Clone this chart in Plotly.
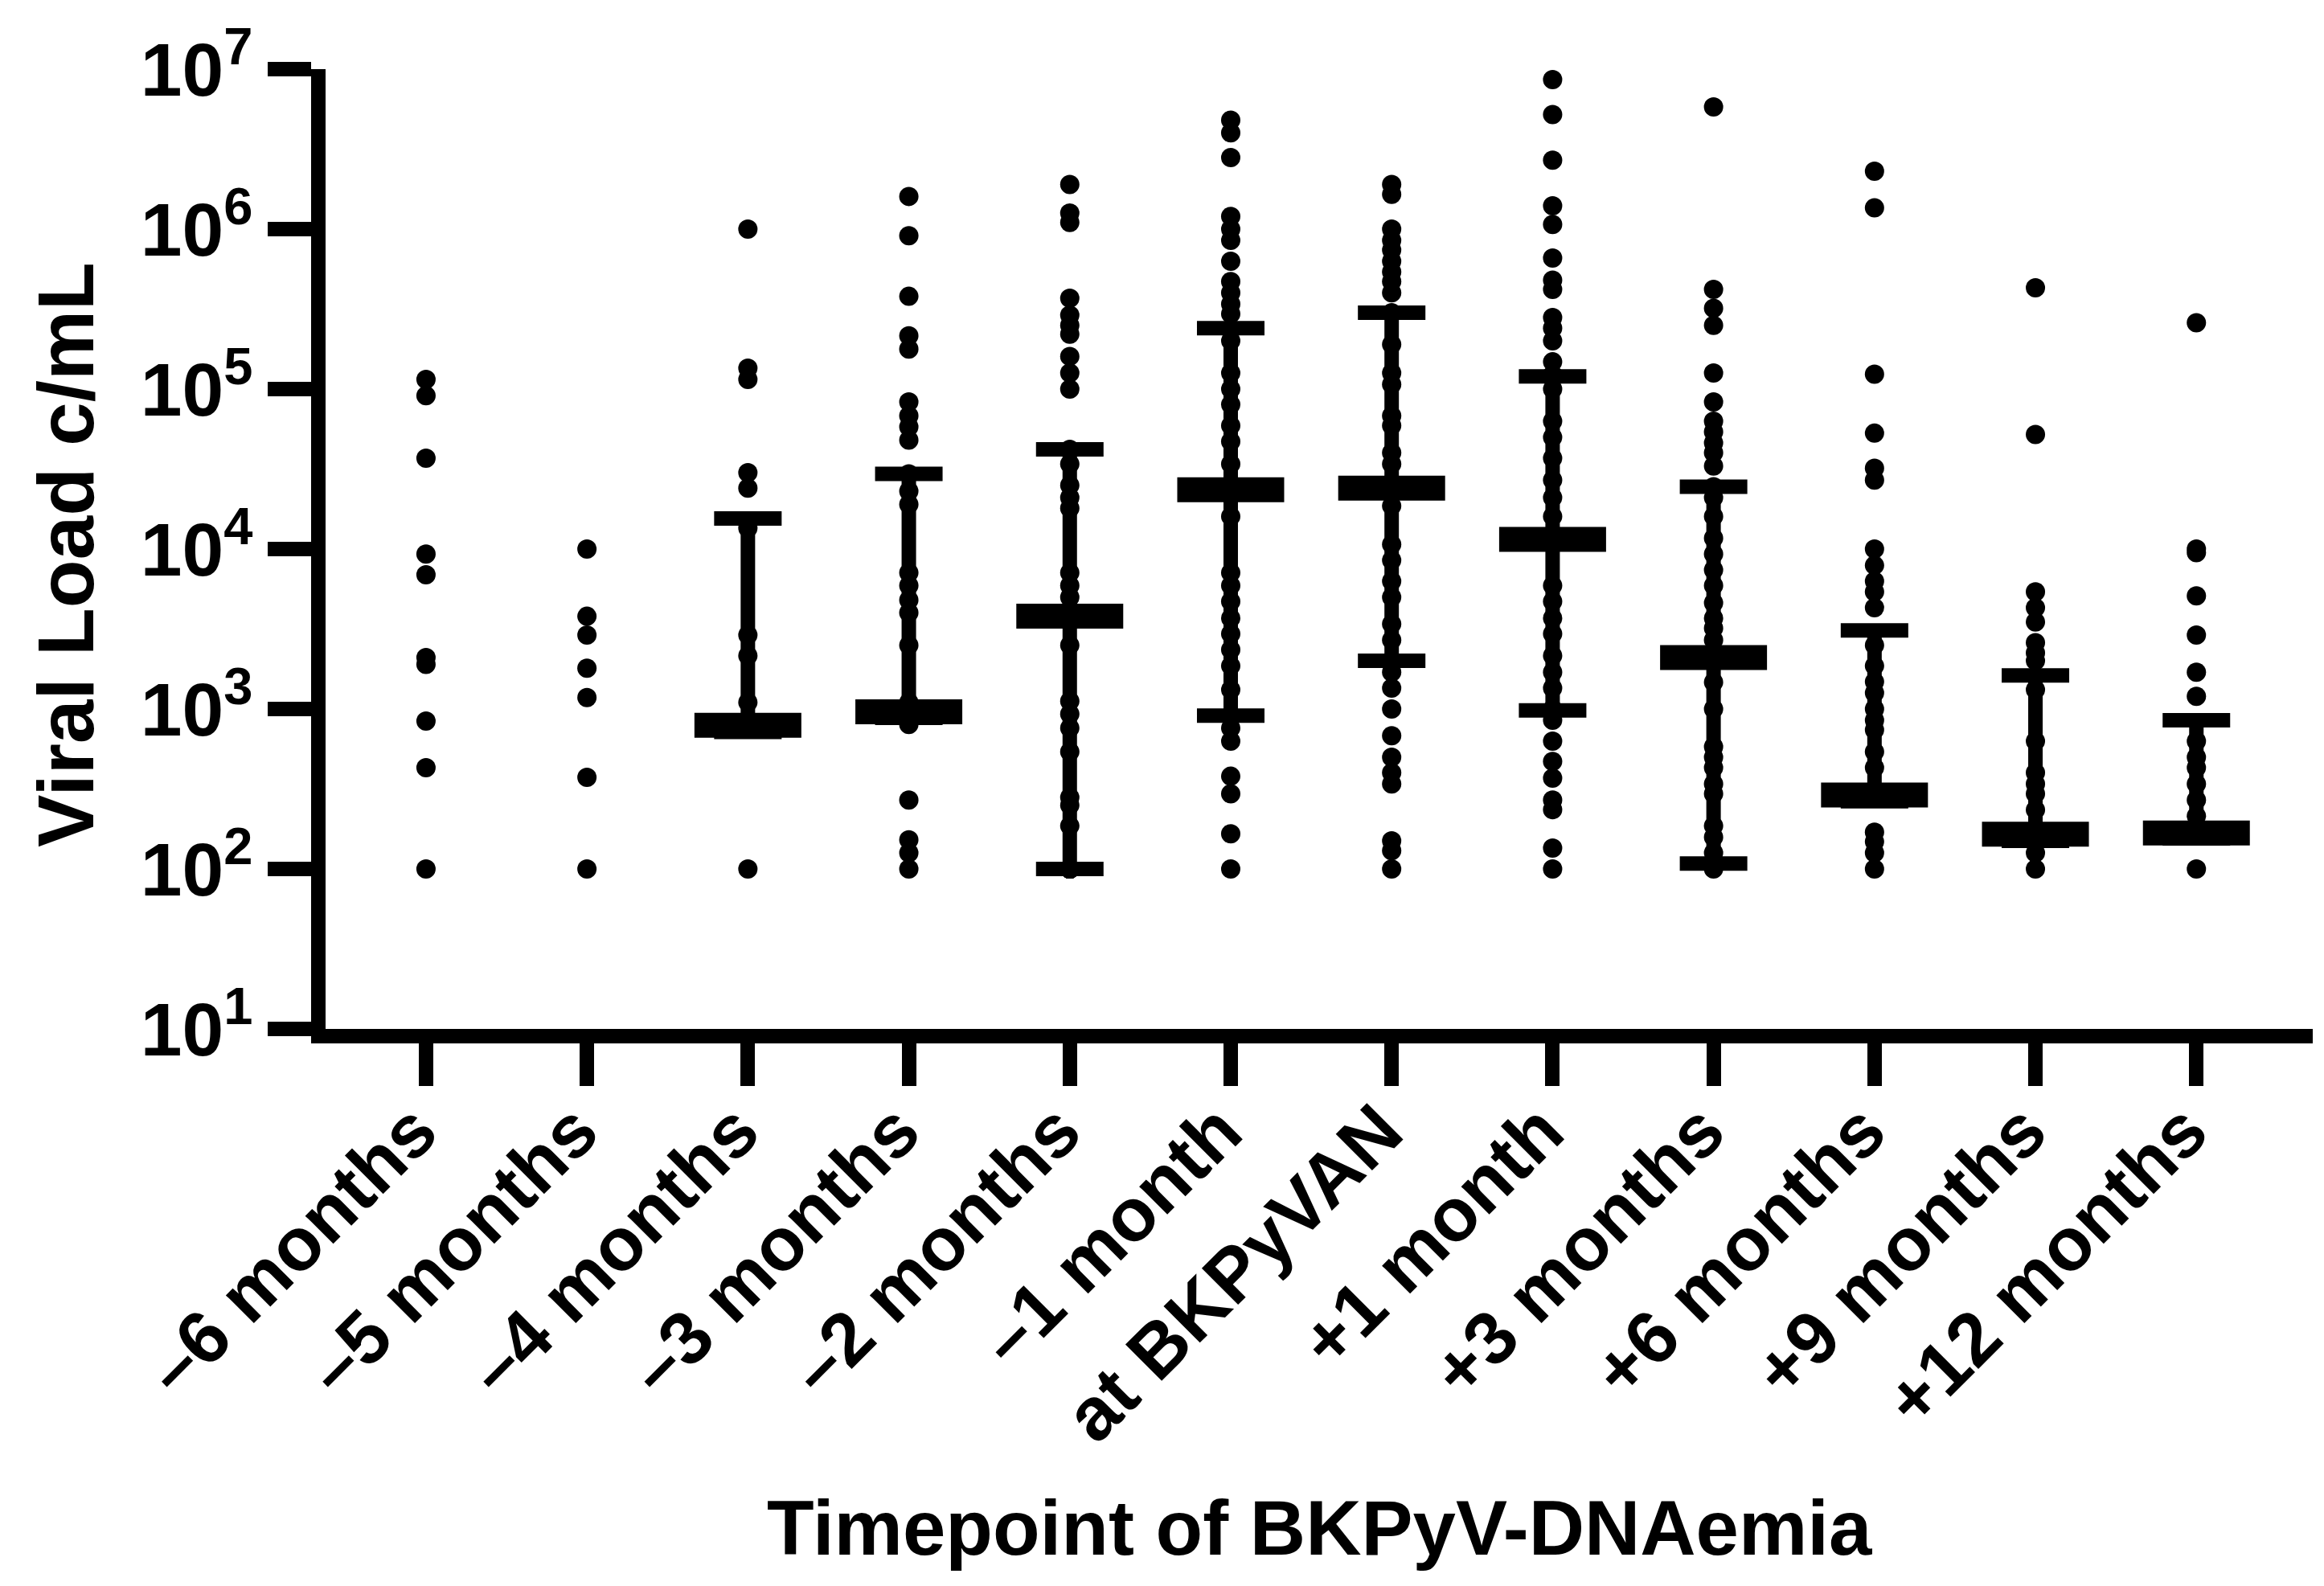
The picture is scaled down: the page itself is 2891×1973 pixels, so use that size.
import plotly.graph_objects as go

categories = ["\u20136 months", "\u20135 months", "\u20134 months", "\u20133 months", "\u20132 months",
              "\u20131 month", "at BKPyVAN", "+1 month", "+3 months", "+6 months",
              "+9 months", "+12 months"]

m6 = [115000, 91000, 37000, 9300, 6900, 2100, 1900, 840, 430, 100]
m5 = [10000, 3800, 2900, 1800, 1180, 374, 100]
m4 = [1000000, 135000, 115000, 30000, 24000, 13500, 2900, 2150, 1100, 800, 750, 100]
m3 = [1600000, 910000, 380000, 215000, 178000, 83000, 68000, 58000, 48000, 29500, 23000,
      19000, 7100, 5900, 4800, 4000, 2500, 1100, 1000, 950, 800, 270, 152, 126, 100]
m2 = [1900000, 1260000, 1100000, 370000, 290000, 250000, 220000, 160000, 126000, 100000,
      42000, 34000, 25000, 21000, 18000, 7100, 5900, 5000, 3800, 2500, 1120, 930, 760, 540,
      280, 250, 186, 100, 100, 100, 100, 100, 100, 100, 100, 100]
m1 = [4800000, 4000000, 2800000, 1200000, 1000000, 850000, 630000, 470000, 400000, 340000,
      295000, 200000, 126000, 100000, 80000, 59000, 47000, 34000, 23000, 16000, 7100, 5900,
      4700, 3700, 2950, 2350, 1860, 1320, 900, 760, 630, 380, 295, 166, 100]
at_van = [1900000, 1650000, 1000000, 850000, 740000, 630000, 540000, 470000, 400000, 300000,
          190000, 126000, 107000, 68000, 59000, 40000, 34000, 24000, 18600, 10700, 8500, 6300,
          5000, 3400, 2700, 2000, 1700, 1350, 1000, 680, 500, 400, 340, 150, 130, 100]
p1 = [8600000, 5200000, 2700000, 1400000, 1070000, 660000, 480000, 420000, 280000, 240000,
      200000, 148000, 123000, 100000, 63000, 50000, 37000, 27000, 21000, 16000, 11200, 5900,
      4700, 3700, 2950, 2150, 1700, 1350, 1000, 850, 630, 470, 370, 270, 235, 135, 100]
p3 = [5800000, 420000, 320000, 250000, 126000, 83000, 63000, 54000, 46000, 40000, 33000,
      24500, 21000, 16000, 11700, 9300, 7400, 5900, 4600, 3700, 3200, 2700, 2100, 1470, 1000,
      580, 500, 430, 340, 295, 186, 158, 126, 110, 100]
p6 = [2300000, 1360000, 124000, 53000, 32000, 27000, 10000, 7900, 6300, 5400, 4300, 2500,
      1860, 1480, 1260, 1000, 850, 740, 540, 430, 290, 170, 148, 126, 100]
p9 = [430000, 52000, 5400, 4300, 3500, 2600, 2240, 2000, 1320, 630, 400, 340, 295, 234, 156,
      126, 100]
p12 = [260000, 10000, 9500, 5100, 2900, 1700, 1200, 630, 500, 430, 340, 270, 214, 100]

series = [m6, m5, m4, m3, m2, m1, at_van, p1, p3, p6, p9, p12]

# median and interquartile range (as drawn), None where not shown
medians = [None, None, 790, 960, 3800, 23500, 24000, 11500, 2100, 290, 165, 168]
q1 = [None, None, 720, 880, 100, 910, 2000, 980, 108, 265, 150, 155]
q3 = [None, None, 15500, 29500, 42000, 240000, 300000, 120000, 24500, 3100, 1620, 850]

tick_vals = [10, 100, 1000, 10000, 100000, 1000000, 10000000]
tick_text = ["10<sup>%d</sup>" % e for e in range(1, 8)]

xs, ys = [], []
for i, vals in enumerate(series):
    for v in vals:
        xs.append(i)
        ys.append(v)

fig = go.Figure()
fig.add_trace(go.Scatter(
    x=xs, y=ys, mode="markers",
    marker=dict(size=24, color="black", line=dict(width=0)),
    showlegend=False, hoverinfo="skip"))

mx = [i for i, m in enumerate(medians) if m is not None]
my = [medians[i] for i in mx]
eplus = [q3[i] - medians[i] for i in mx]
eminus = [medians[i] - q1[i] for i in mx]
fig.add_trace(go.Scatter(
    x=mx, y=my, mode="markers",
    marker=dict(symbol="line-ew", size=95, color="black",
                line=dict(width=31, color="black")),
    error_y=dict(type="data", symmetric=False, array=eplus, arrayminus=eminus,
                 color="black", thickness=18, width=42),
    showlegend=False, hoverinfo="skip"))

font_main = "Liberation Sans, Arial, sans-serif"

fig.update_layout(
    width=2891, height=1973,
    margin=dict(l=397, r=22, t=73, b=701),
    paper_bgcolor="white", plot_bgcolor="white",
    xaxis=dict(
        range=[-0.624, 11.723], tickmode="array", tickvals=list(range(len(categories))),
        ticktext=categories, tickangle=-45,
        showline=True, linecolor="black", linewidth=18,
        ticks="outside", ticklen=53, tickwidth=18, tickcolor="black",
        showgrid=False, zeroline=False, ticklabelstandoff=-36, ticklabelshift=-14,
        tickfont=dict(family=font_main, size=93, color="black", weight="bold"),
    ),
    yaxis=dict(
        type="log", range=[1, 7], tickmode="array", tickvals=tick_vals, ticktext=tick_text,
        showline=True, linecolor="black", linewidth=18,
        ticks="outside", ticklen=54, tickwidth=18, tickcolor="black",
        showgrid=False, zeroline=False,
        tickfont=dict(family=font_main, size=93, color="black", weight="bold"),
    ),
    annotations=[
        dict(text="Timepoint of BKPyV-DNAemia", xref="paper", yref="paper", x=0.5, y=0,
             xanchor="center", yanchor="middle", yshift=-620, showarrow=False,
             font=dict(family=font_main, size=96, color="black", weight="bold")),
        dict(text="Viral Load c/mL", xref="paper", yref="paper", x=0, y=0.5,
             xanchor="center", yanchor="middle", xshift=-323, yshift=-7, textangle=-90,
             showarrow=False,
             font=dict(family=font_main, size=98, color="black", weight="bold")),
    ],
)

fig.write_html("out.html")
